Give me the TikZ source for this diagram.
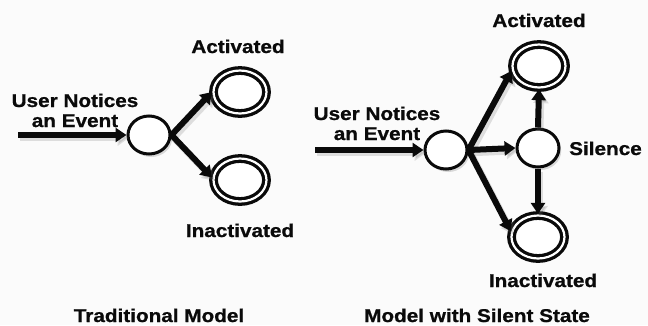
\documentclass[tikz,border=0pt]{standalone}
\usepackage{fontspec}
\setmainfont{Liberation Sans}[FakeStretch=1.12,BoldFeatures={FakeStretch=1.12,FakeBold=0.9}]
\usetikzlibrary{arrows.meta,shapes.geometric,shadows}
\definecolor{paper}{HTML}{FBFBFB}
\definecolor{ink}{HTML}{0A0A0A}
\begin{document}
\begin{tikzpicture}[x=1pt,y=-1pt,
  font=\fontsize{18.5}{20}\selectfont\bfseries,
  softshadow/.style={drop shadow={shadow xshift=2.2pt,shadow yshift=-3pt,
      opacity=0.25,fill=black!55}},
  plainstate/.style={ellipse,draw=ink,fill=white,line width=3pt,inner sep=0pt,
      minimum width=42pt,minimum height=38pt,softshadow},
  finalstate/.style={ellipse,draw=ink,fill=white,double=white,line width=3.3pt,
      double distance=2.2pt,inner sep=0pt,minimum width=53pt,minimum height=43pt,
      softshadow},
  label/.style={text=ink,inner sep=0pt,anchor=base},
  flow/.style={draw=ink,line width=6pt,
      -{Triangle[length=11pt,width=14pt]}},
  flowshadow/.style={draw=black!60,opacity=0.2,line width=6.5pt,
      -{Triangle[length=11pt,width=15pt]},
      transform canvas={shift={(2.2pt,-3pt)}}}
]
\useasboundingbox[fill=paper] (0,0) rectangle (648,325);

% ---- traditional model ----
\node[plainstate] (lc) at (149,135) {};
\node[finalstate] (la) at (240,92) {};
\node[finalstate] (li) at (240,180) {};
\coordinate (lin) at (18,135);

% the base of a two-line label is the baseline of its last line
\node[label,align=center] (lev) at (75,127) {User Notices\\an Event};
\node[label] (lat) at (238,53) {Activated};
\node[label] (lit) at (240,237) {Inactivated};
\node[label] (lcap) at (159,322) {Traditional Model};

% ---- model with a silent state ----
\node[plainstate] (rc) at (446,150) {};
\node[plainstate] (rs) at (538,148) {};
\node[finalstate] (ra) at (539,66) {};
\node[finalstate] (ri) at (538,237) {};
\coordinate (rin) at (315,150);

\node[label,align=center] (rev) at (377,140) {User Notices\\an Event};
\node[label] (rat) at (539,27) {Activated};
\node[label] (rit) at (543,287) {Inactivated};
\node[label,anchor=base west] (rst) at (569,155) {Silence};
\node[label] (rcap) at (477,322) {Model with Silent State};

% shadows under the transitions
\foreach \a/\b in {lin/lc.west, lc.east/la.west, lc.east/li.175,
                   rin/rc.west, rc.east/ra.190, rc.east/rs.west, rc.east/ri.168,
                   rs.north/ra.south, rs.south/ri.north}
  \path[flowshadow] (\a) -- (\b);

% transitions
\path[flow] (lin) -- (lc.west);
\path[flow] (lc.east) -- (la.west);
\path[flow] (lc.east) -- (li.175);

\path[flow] (rin) -- (rc.west);
\path[flow] (rc.east) -- (ra.190);
\path[flow] (rc.east) -- (rs.west);
\path[flow] (rc.east) -- (ri.168);
\path[flow] (rs.north) -- (ra.south);
\path[flow] (rs.south) -- (ri.north);
\end{tikzpicture}
\end{document}
